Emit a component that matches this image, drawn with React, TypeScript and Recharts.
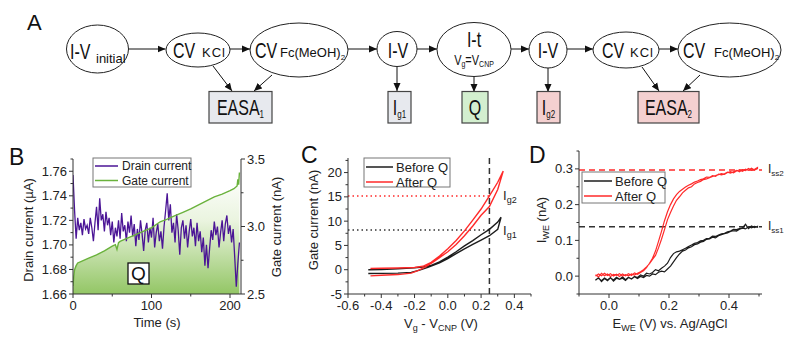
import React from "react";
import { ComposedChart, LineChart, Line, Area, XAxis, YAxis, ReferenceLine } from "recharts";

const FONT = "'Liberation Sans', Arial, Helvetica, sans-serif";
const INK = "#222";
const PURPLE = "#4b1596";
const GREEN = "#6ab23c";
const RED = "#ff2a2a";
const BLACK = "#1c1c1c";

// ---- panel B: drain current (uA) sampled every 2 s, gate current (nA) ----
const TIME_S = [
  0, 2, 4, 6, 8, 10, 12, 14, 16, 18, 20, 22, 24, 26, 28, 30, 32, 34, 36, 38, 40, 42, 44, 46, 48, 50,
  52, 54, 56, 58, 60, 62, 64, 66, 68, 70, 72, 74, 76, 78, 80, 82, 84, 86, 88, 90, 92, 94, 96, 98, 100,
  102, 104, 106, 108, 110, 112, 114, 116, 118, 120, 122, 124, 126, 128, 130, 132, 134, 136, 138, 140,
  142, 144, 146, 148, 150, 152, 154, 156, 158, 160, 162, 164, 166, 168, 170, 172, 174, 176, 178, 180,
  182, 184, 186, 188, 190, 192, 194, 196, 198, 200, 202, 204, 206, 208, 210, 212,
];
const DRAIN_UA = [
  1.757, 1.728, 1.705, 1.722, 1.712, 1.718, 1.708, 1.721, 1.713, 1.716, 1.709, 1.722, 1.714, 1.703,
  1.718, 1.731, 1.712, 1.738, 1.72, 1.725, 1.711, 1.727, 1.716, 1.722, 1.708, 1.719, 1.702, 1.714,
  1.707, 1.72, 1.705, 1.726, 1.711, 1.716, 1.703, 1.719, 1.71, 1.724, 1.707, 1.717, 1.699, 1.713,
  1.704, 1.72, 1.709, 1.695, 1.712, 1.718, 1.702, 1.714, 1.706, 1.722, 1.698, 1.71, 1.717, 1.703,
  1.711, 1.697, 1.715, 1.728, 1.742, 1.72, 1.733, 1.71, 1.718, 1.702, 1.725, 1.712, 1.692, 1.714,
  1.72, 1.705, 1.716, 1.698, 1.711, 1.721, 1.707, 1.714, 1.699, 1.718, 1.703, 1.711, 1.694, 1.706,
  1.683, 1.7, 1.681, 1.697, 1.712, 1.704, 1.719, 1.708, 1.715, 1.698, 1.71, 1.72, 1.703, 1.717, 1.724,
  1.709, 1.716, 1.702, 1.713, 1.69, 1.666, 1.685, 1.702,
];
const GATE_TIME_S = [0, 1, 2, 4, 6, 10, 20, 30, 40, 50, 54, 56, 58, 60, 70, 80, 90, 100, 111, 120, 130, 140, 150, 160, 170, 180, 190, 200, 205, 209, 210, 211, 212];
const GATE_NA = [2.56, 2.63, 2.68, 2.71, 2.73, 2.74, 2.765, 2.79, 2.82, 2.855, 2.865, 2.83, 2.88, 2.89, 2.915, 2.94, 2.965, 2.99, 3.035, 3.055, 3.08, 3.105, 3.13, 3.16, 3.19, 3.22, 3.24, 3.265, 3.28, 3.3, 3.35, 3.31, 3.4];

const TIME_TICKS = [0, 50, 100, 150, 200];
const TIME_LABELED = [0, 100, 200];
const DRAIN_TICKS = [1.66, 1.67, 1.68, 1.69, 1.7, 1.71, 1.72, 1.73, 1.74, 1.75, 1.76, 1.77];
const DRAIN_LABELED = [1.66, 1.68, 1.7, 1.72, 1.74, 1.76];
const GATE_TICKS = [2.5, 2.75, 3, 3.25, 3.5];
const GATE_LABELED = [2.5, 3, 3.5];

// ---- panel C: gate current loops ----
const BEFORE_VG = [-0.478, -0.4, -0.3, -0.22, -0.17, -0.12, -0.05, 0, 0.05, 0.1, 0.15, 0.2, 0.25, 0.3, 0.32, 0.3, 0.25, 0.2, 0.15, 0.1, 0.05, 0, -0.05, -0.1, -0.15, -0.2, -0.3, -0.4, -0.478];
const BEFORE_IG = [-0.78, -0.75, -0.7, -0.55, -0.1, 0.5, 1.4, 2.3, 3.3, 4.3, 5.2, 6.1, 7.0, 8.3, 10.8, 9.8, 8.3, 7.2, 6.0, 4.9, 3.7, 2.6, 1.6, 0.9, 0.55, 0.4, 0.2, 0.05, 0.0];
const AFTER_VG = [-0.465, -0.4, -0.3, -0.22, -0.18, -0.14, -0.1, -0.05, 0, 0.05, 0.1, 0.15, 0.2, 0.25, 0.3, 0.333, 0.3, 0.25, 0.2, 0.15, 0.1, 0.05, 0, -0.05, -0.1, -0.15, -0.2, -0.3, -0.4, -0.465];
const AFTER_IG = [-1.27, -1.15, -1.0, -0.7, -0.2, 0.5, 1.3, 2.5, 3.7, 5.2, 7.0, 9.0, 11.2, 13.0, 16.5, 20.3, 18.0, 15.2, 12.5, 10.2, 8.0, 6.0, 4.3, 2.8, 1.5, 0.7, 0.45, 0.35, 0.3, 0.25];

const VG_TICKS = [-0.6, -0.5, -0.4, -0.3, -0.2, -0.1, 0, 0.1, 0.2, 0.3, 0.4, 0.5];
const VG_LABELED = [-0.6, -0.4, -0.2, 0, 0.2, 0.4];
const IG_TICKS = [-5, -2.5, 0, 2.5, 5, 7.5, 10, 12.5, 15, 17.5, 20, 22.5];
const IG_LABELED = [-5, 0, 5, 10, 15, 20];
const IG1 = 8.2;
const IG2 = 15.2;
const VG_READ = 0.25;

// ---- panel D: CV sweeps (forward then back on the same potentials) ----
const E_SWEEP = [
  -0.045, -0.035, -0.025, -0.015, -0.005, 0.005, 0.015, 0.025, 0.035, 0.045, 0.055, 0.065, 0.075, 0.085,
  0.095, 0.105, 0.115, 0.125, 0.135, 0.145, 0.155, 0.165, 0.175, 0.185, 0.195, 0.205, 0.215, 0.225,
  0.235, 0.245, 0.255, 0.265, 0.275, 0.285, 0.295, 0.305, 0.315, 0.325, 0.335, 0.345, 0.355, 0.365,
  0.375, 0.385, 0.395, 0.405, 0.415, 0.425, 0.435, 0.445, 0.455, 0.465, 0.475, 0.485, 0.495,
];
const AFTER_FWD = [
  0.004, -0.002, 0.008, 0.001, 0.006, -0.001, 0.005, 0.002, 0.007, 0.0, 0.004, 0.001, 0.006, 0.003,
  0.008, 0.012, 0.018, 0.026, 0.035, 0.047, 0.058, 0.079, 0.103, 0.13, 0.158, 0.178, 0.196, 0.212,
  0.222, 0.233, 0.24, 0.247, 0.25, 0.258, 0.262, 0.265, 0.27, 0.272, 0.275, 0.279, 0.281, 0.284,
  0.287, 0.285, 0.29, 0.292, 0.289, 0.294, 0.297, 0.293, 0.299, 0.296, 0.302, 0.297, 0.301,
];
const AFTER_BACK = [
  0.0, 0.006, 0.001, 0.008, 0.002, 0.007, 0.0, 0.005, -0.001, 0.006, 0.001, 0.007, 0.002, 0.009,
  0.005, 0.01, 0.015, 0.024, 0.036, 0.05, 0.07, 0.097, 0.125, 0.155, 0.18, 0.2, 0.216, 0.228,
  0.237, 0.243, 0.249, 0.254, 0.258, 0.263, 0.266, 0.27, 0.272, 0.277, 0.276, 0.281, 0.279, 0.285,
  0.283, 0.286, 0.291, 0.288, 0.292, 0.296, 0.292, 0.298, 0.295, 0.301, 0.296, 0.299, 0.304,
];
const BEFORE_FWD = [
  -0.012, -0.004, -0.015, -0.007, -0.013, -0.005, -0.011, -0.003, -0.009, -0.006, -0.012, -0.004,
  -0.008, -0.002, -0.007, -0.001, -0.004, 0.002, 0.0, 0.006, 0.004, 0.011, 0.014, 0.012, 0.02, 0.028,
  0.04, 0.052, 0.062, 0.07, 0.073, 0.079, 0.082, 0.088, 0.09, 0.095, 0.097, 0.103, 0.104, 0.109,
  0.107, 0.113, 0.116, 0.119, 0.121, 0.125, 0.127, 0.126, 0.131, 0.134, 0.132, 0.138, 0.135, 0.139, 0.137,
];
const BEFORE_BACK = [
  -0.01, -0.006, -0.013, -0.005, -0.011, -0.004, -0.014, -0.006, -0.009, -0.002, -0.01, -0.003,
  -0.008, -0.001, -0.004, 0.003, 0.0, 0.008, 0.006, 0.01, 0.018, 0.015, 0.022, 0.028, 0.036, 0.052,
  0.063, 0.068, 0.07, 0.074, 0.078, 0.083, 0.087, 0.092, 0.094, 0.099, 0.1, 0.105, 0.106, 0.112,
  0.111, 0.115, 0.118, 0.12, 0.124, 0.126, 0.131, 0.13, 0.133, 0.135, 0.145, 0.133, 0.14, 0.136, 0.139,
];
const E_TICKS = [-0.1, 0, 0.1, 0.2, 0.3, 0.4, 0.5];
const E_LABELED = [0, 0.2, 0.4];
const IWE_TICKS = [-0.05, 0, 0.05, 0.1, 0.15, 0.2, 0.25, 0.3, 0.35];
const IWE_LABELED = [0, 0.1, 0.2, 0.3];
const ISS1 = 0.138;
const ISS2 = 0.297;

const drainPts = TIME_S.map((t, i) => ({ t, i: DRAIN_UA[i] }));
const gatePts = GATE_TIME_S.map((t, i) => ({ t, i: GATE_NA[i] }));
const beforeC = BEFORE_VG.map((v, i) => ({ v, i: BEFORE_IG[i] }));
const afterC = AFTER_VG.map((v, i) => ({ v, i: AFTER_IG[i] }));
const sweepLoop = (fwd: number[], back: number[]) => [
  ...E_SWEEP.map((e, k) => ({ e, i: fwd[k] })),
  ...E_SWEEP.map((e, k) => ({ e, i: back[k] })).reverse(),
];
const beforeD = sweepLoop(BEFORE_FWD, BEFORE_BACK);
const afterD = sweepLoop(AFTER_FWD, AFTER_BACK);

const tickText = { fontSize: 13, fill: INK, fontFamily: FONT };

// ticks drawn by hand so minor ticks are shorter and unlabeled
function axisTick(side: "left" | "right" | "bottom", labeled: number[], fmt: (v: number) => string) {
  return (p: any) => {
    const v = p.payload.value;
    const major = labeled.some((l) => Math.abs(l - v) < 1e-6);
    const len = major ? 4 : 2.5;
    if (side === "bottom") {
      return (
        <g>
          <line x1={p.x} y1={p.y} x2={p.x} y2={p.y + len} stroke="#333" />
          {major && <text x={p.x} y={p.y + 15.5} textAnchor="middle" style={tickText}>{fmt(v)}</text>}
        </g>
      );
    }
    const dir = side === "left" ? -1 : 1;
    return (
      <g>
        <line x1={p.x} y1={p.y} x2={p.x + dir * len} y2={p.y} stroke="#333" />
        {major && (
          <text x={p.x + dir * 6} y={p.y} dy="0.35em" textAnchor={side === "left" ? "end" : "start"} style={tickText}>
            {fmt(v)}
          </text>
        )}
      </g>
    );
  };
}

const axisCommon = { stroke: "#333", tickSize: 0, tickMargin: 0, interval: 0 as const, allowDataOverflow: true };

function DrainGateChart() {
  return (
    <ComposedChart width={300} height={210} margin={{ top: 19, right: 19, bottom: 26, left: 33 }}>
      <defs>
        <linearGradient id="gateFill" x1="0" y1="0" x2="0" y2="1">
          <stop offset="0%" stopColor="#ffffff" />
          <stop offset="40%" stopColor="#eaf4df" />
          <stop offset="100%" stopColor="#93c665" />
        </linearGradient>
      </defs>
      <XAxis type="number" dataKey="t" domain={[0, 214]} ticks={TIME_TICKS} height={30} {...axisCommon}
        tick={axisTick("bottom", TIME_LABELED, (v) => String(v))} />
      <YAxis yAxisId="drain" type="number" domain={[1.66, 1.77]} ticks={DRAIN_TICKS} width={40} {...axisCommon}
        tick={axisTick("left", DRAIN_LABELED, (v) => v.toFixed(2))} />
      <YAxis yAxisId="gate" orientation="right" type="number" domain={[2.5, 3.5]} ticks={GATE_TICKS} width={40} {...axisCommon}
        tick={axisTick("right", GATE_LABELED, (v) => v.toFixed(1))} />
      <Area yAxisId="gate" data={gatePts} dataKey="i" type="linear" stroke="none" fill="url(#gateFill)" fillOpacity={1} isAnimationActive={false} />
      <Line yAxisId="drain" data={drainPts} dataKey="i" type="linear" stroke={PURPLE} strokeWidth={1.3} dot={false} isAnimationActive={false} />
      <Line yAxisId="gate" data={gatePts} dataKey="i" type="linear" stroke={GREEN} strokeWidth={1.4} dot={false} isAnimationActive={false} />
    </ComposedChart>
  );
}

function GateLoopChart() {
  return (
    <LineChart width={270} height={210} margin={{ top: 18, right: 9, bottom: 26, left: 38 }}>
      <XAxis type="number" dataKey="v" domain={[-0.6, 0.5]} ticks={VG_TICKS} height={30} {...axisCommon}
        tick={axisTick("bottom", VG_LABELED, (v) => v.toFixed(1))} />
      <YAxis type="number" domain={[-5, 23]} ticks={IG_TICKS} width={40} {...axisCommon}
        tick={axisTick("left", IG_LABELED, (v) => String(v))} />
      <ReferenceLine segment={[{ x: -0.6, y: IG2 }, { x: VG_READ, y: IG2 }]} stroke={RED} strokeWidth={1.5} strokeDasharray="1.5 3" />
      <ReferenceLine segment={[{ x: -0.6, y: IG1 }, { x: VG_READ, y: IG1 }]} stroke="#333" strokeWidth={1.5} strokeDasharray="1.5 3" />
      <ReferenceLine x={VG_READ} stroke="#333" strokeWidth={1.5} strokeDasharray="6 4" />
      <Line data={beforeC} dataKey="i" type="linear" stroke={BLACK} strokeWidth={1.4} dot={false} isAnimationActive={false} />
      <Line data={afterC} dataKey="i" type="linear" stroke={RED} strokeWidth={1.4} dot={false} isAnimationActive={false} />
    </LineChart>
  );
}

function SteadyStateChart() {
  return (
    <LineChart width={281} height={210} margin={{ top: 11, right: 49, bottom: 26, left: 9 }}>
      <XAxis type="number" dataKey="e" domain={[-0.1, 0.51]} ticks={E_TICKS} height={30} {...axisCommon}
        tick={axisTick("bottom", E_LABELED, (v) => v.toFixed(1))} />
      <YAxis type="number" domain={[-0.05, 0.35]} ticks={IWE_TICKS} width={40} {...axisCommon}
        tick={axisTick("left", IWE_LABELED, (v) => v.toFixed(1))} />
      <ReferenceLine y={ISS2} stroke={RED} strokeWidth={1.5} strokeDasharray="6 4" />
      <ReferenceLine y={ISS1} stroke="#333" strokeWidth={1.5} strokeDasharray="6 4" />
      <Line data={beforeD} dataKey="i" type="linear" stroke={BLACK} strokeWidth={1.2} dot={false} isAnimationActive={false} />
      <Line data={afterD} dataKey="i" type="linear" stroke={RED} strokeWidth={1.2} dot={false} isAnimationActive={false} />
    </LineChart>
  );
}

// big flow-chart text is tall and narrow: stretch it vertically
function Tall({ x, y, size, anchor = "start", children }: { x: number; y: number; size: number; anchor?: string; children: React.ReactNode }) {
  return (
    <text transform={`translate(${x},${y}) scale(1,1.35)`} textAnchor={anchor} fontSize={size} fill="#111" fontFamily={FONT}>
      {children}
    </text>
  );
}
function Small({ x, y, children, spacing = 0 }: { x: number; y: number; spacing?: number; children: React.ReactNode }) {
  return (
    <text x={x} y={y} fontSize={13} letterSpacing={spacing} fill="#111" fontFamily={FONT}>{children}</text>
  );
}

const nodes = [
  { cx: 97.5, cy: 49, rx: 31, ry: 24 },
  { cx: 198, cy: 50, rx: 32, ry: 17 },
  { cx: 299, cy: 50, rx: 49, ry: 27 },
  { cx: 397, cy: 49, rx: 20, ry: 17.5 },
  { cx: 474, cy: 49.5, rx: 37, ry: 27 },
  { cx: 548, cy: 50, rx: 19, ry: 18 },
  { cx: 626, cy: 50, rx: 33, ry: 18 },
  { cx: 729.5, cy: 50, rx: 51.5, ry: 27 },
];
const boxes = [
  { x: 209, w: 63, fill: "#e7e9ee" },
  { x: 388, w: 23, fill: "#e7e9ee" },
  { x: 462, w: 26, fill: "#d3efcf" },
  { x: 537, w: 23, fill: "#f4d0d0" },
  { x: 638, w: 61, fill: "#f4d0d0" },
];
const arrows = [
  [128.5, 49, 165.5, 49], [230, 49, 250, 49], [348, 49, 377, 49], [417, 49, 437, 49],
  [511, 49, 529, 49], [567, 49, 593, 49], [659, 49, 678, 49],
  [397, 66.5, 397, 91], [474, 76.5, 474, 92], [548, 68, 548, 92],
  [213, 66, 232, 91], [272, 75, 254, 91], [642, 67, 659, 91], [700, 75, 683, 91],
];

function FlowChart() {
  return (
    <g>
      <defs>
        <marker id="ah" markerWidth="8" markerHeight="8" refX="8" refY="4" orient="auto" markerUnits="userSpaceOnUse">
          <path d="M0,0.5 L8,4 L0,7.5 z" fill="#111" />
        </marker>
      </defs>
      {arrows.map((a, i) => (
        <line key={i} x1={a[0]} y1={a[1]} x2={a[2]} y2={a[3]} stroke="#111" strokeWidth={1} markerEnd="url(#ah)" />
      ))}
      {nodes.map((n, i) => (
        <ellipse key={i} cx={n.cx} cy={n.cy} rx={n.rx} ry={n.ry} fill="#fff" stroke="#222" strokeWidth={1} />
      ))}
      {boxes.map((b, i) => (
        <rect key={i} x={b.x} y={91.5} width={b.w} height={31.5} fill={b.fill} stroke="#444" strokeWidth={1.2} />
      ))}
      <Tall x={70} y={59} size={16}>I-V</Tall>
      <Small x={96} y={63}>initial</Small>
      <Tall x={173} y={58} size={16}>CV</Tall>
      <Small x={202} y={57} spacing={1}>KCl</Small>
      <Tall x={255} y={58} size={16}>CV</Tall>
      <Small x={280} y={57}>Fc(MeOH)<tspan fontSize={8} dy={3}>2</tspan></Small>
      <Tall x={398} y={58} size={16} anchor="middle">I-V</Tall>
      <Tall x={474} y={46.5} size={16} anchor="middle">I-t</Tall>
      <Tall x={474} y={65} size={11} anchor="middle">V<tspan fontSize={7} dy={1.5}>g</tspan><tspan dy={-1.5}>=V</tspan><tspan fontSize={7} dy={1.5}>CNP</tspan></Tall>
      <Tall x={548} y={58} size={16} anchor="middle">I-V</Tall>
      <Tall x={602} y={58} size={16}>CV</Tall>
      <Small x={630} y={57} spacing={1}>KCl</Small>
      <Tall x={683} y={58} size={16}>CV</Tall>
      <Small x={714} y={57}>Fc(MeOH)<tspan fontSize={8} dy={3}>2</tspan></Small>
      <Tall x={240.5} y={115} size={16} anchor="middle">EASA<tspan fontSize={8} dy={2}>1</tspan></Tall>
      <Tall x={399.5} y={115} size={16} anchor="middle">I<tspan fontSize={8} dy={2}>g1</tspan></Tall>
      <Tall x={475} y={115} size={16} anchor="middle">Q</Tall>
      <Tall x={548.5} y={115} size={16} anchor="middle">I<tspan fontSize={8} dy={2}>g2</tspan></Tall>
      <Tall x={668.5} y={115} size={16} anchor="middle">EASA<tspan fontSize={8} dy={2}>2</tspan></Tall>
    </g>
  );
}

function LegendBox({ x, y, w, h, size, lineEnd, textX, rows }: {
  x: number; y: number; w: number; h: number; size: number; lineEnd: number; textX: number;
  rows: { label: string; color: string; y: number }[];
}) {
  return (
    <g>
      <rect x={x} y={y} width={w} height={h} fill="#fff" stroke="#777" strokeWidth={1} />
      {rows.map((r) => (
        <g key={r.label}>
          <line x1={x + 2} y1={r.y} x2={lineEnd} y2={r.y} stroke={r.color} strokeWidth={1.5} />
          <text x={textX} y={r.y} dy="0.35em" fontSize={size} fill={INK} fontFamily={FONT}>{r.label}</text>
        </g>
      ))}
    </g>
  );
}

const labelStyle = { fontSize: 13, fill: INK, fontFamily: FONT };

function Overlay() {
  return (
    <svg width={811} height={350} style={{ position: "absolute", left: 0, top: 0, pointerEvents: "none" }}>
      <text x={27} y={30} fontSize={22} fill="#111" fontFamily={FONT}>A</text>
      <FlowChart />

      {/* B */}
      <text x={9} y={165} fontSize={23} fill="#111" fontFamily={FONT}>B</text>
      <text transform="translate(32.5,230) rotate(-90)" textAnchor="middle" style={labelStyle}>Drain current (µA)</text>
      <text transform="translate(281,227) rotate(-90)" textAnchor="middle" style={labelStyle}>Gate current (nA)</text>
      <text x={157} y={327} textAnchor="middle" style={labelStyle}>Time (s)</text>
      <LegendBox x={93} y={158} w={98} h={29} size={12} lineEnd={118} textX={122}
        rows={[{ label: "Drain current", color: PURPLE, y: 166 }, { label: "Gate current", color: GREEN, y: 180.5 }]} />
      <rect x={128} y={263} width={21} height={21} fill="#fff" stroke="#111" strokeWidth={1.3} />
      <text x={138.5} y={280} textAnchor="middle" fontSize={19} fill="#111" fontFamily={FONT}>Q</text>

      {/* C */}
      <text x={301} y={163} fontSize={23} fill="#111" fontFamily={FONT}>C</text>
      <text transform="translate(318,220) rotate(-90)" textAnchor="middle" style={labelStyle}>Gate current (nA)</text>
      <text x={441} y={328} textAnchor="middle" style={labelStyle}>
        V<tspan fontSize={9} dy={3}>g</tspan><tspan dy={-3}> - V</tspan><tspan fontSize={9} dy={3}>CNP</tspan><tspan dy={-3}> (V)</tspan>
      </text>
      <text x={503} y={200} style={labelStyle}>I<tspan fontSize={9} dy={3}>g2</tspan></text>
      <text x={503} y={235} style={labelStyle}>I<tspan fontSize={9} dy={3}>g1</tspan></text>
      <LegendBox x={364} y={158} w={86} h={29} size={13} lineEnd={393} textX={396}
        rows={[{ label: "Before Q", color: BLACK, y: 167 }, { label: "After Q", color: RED, y: 182 }]} />

      {/* D */}
      <text x={529} y={163} fontSize={23} fill="#111" fontFamily={FONT}>D</text>
      <text transform="translate(546,220) rotate(-90)" textAnchor="middle" style={labelStyle}>
        I<tspan fontSize={9} dy={3}>WE</tspan><tspan dy={-3}> (nA)</tspan>
      </text>
      <text x={670} y={328} textAnchor="middle" style={labelStyle}>
        E<tspan fontSize={9} dy={3}>WE</tspan><tspan dy={-3}> (V) vs. Ag/AgCl</tspan>
      </text>
      <text x={768} y={173} fontSize={12} fill={INK} fontFamily={FONT}>I<tspan fontSize={8} dy={3}>ss2</tspan></text>
      <text x={768} y={230} fontSize={12} fill={INK} fontFamily={FONT}>I<tspan fontSize={8} dy={3}>ss1</tspan></text>
      <LegendBox x={582} y={172} w={83} h={31} size={13} lineEnd={612} textX={615}
        rows={[{ label: "Before Q", color: BLACK, y: 181 }, { label: "After Q", color: RED, y: 196 }]} />
    </svg>
  );
}

export default function App() {
  return (
    <div style={{ position: "absolute", left: 0, top: 0, width: 811, height: 350, background: "#fff", overflow: "hidden" }}>
      <div style={{ position: "absolute", left: 0, top: 140 }}><DrainGateChart /></div>
      <div style={{ position: "absolute", left: 270, top: 140 }}><GateLoopChart /></div>
      <div style={{ position: "absolute", left: 530, top: 140 }}><SteadyStateChart /></div>
      <Overlay />
    </div>
  );
}
